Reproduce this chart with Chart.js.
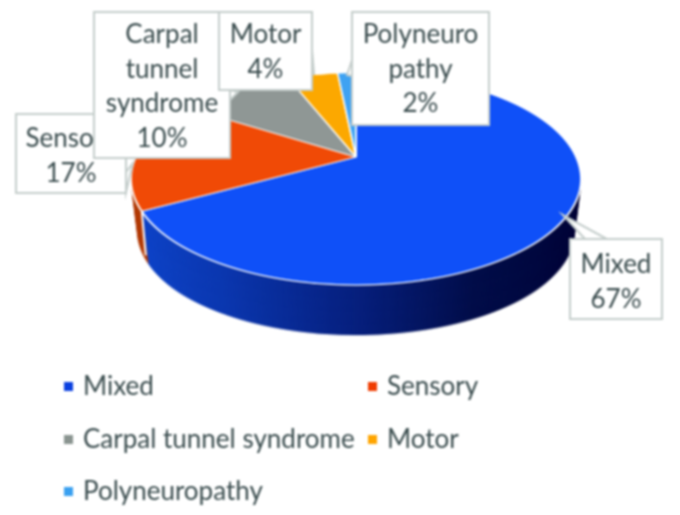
<!DOCTYPE html>
<html>
<head>
<meta charset="utf-8">
<script src="https://cdn.jsdelivr.net/npm/chart.js@4"></script>
<style>
  html, body { margin: 0; background: #fff; }
  canvas { display: block; filter: blur(0.8px); }
</style>
</head>
<body>
<canvas id="myChart" width="680" height="515"></canvas>
<script>
const categories = ['Mixed', 'Sensory', 'Carpal tunnel syndrome', 'Motor', 'Polyneuropathy']
const values = [67, 17, 10, 4.4, 1.6]
const sliceColors = ['#0f50f8', '#f04a06', '#8f9795', '#fca800', '#3fa2f2']
const legendColors = ['#0b40e0', '#f03c00', '#8a9490', '#ffa500', '#3aa0f0']
const calloutLines = [['Mixed'], ['Sensory'], ['Carpal', 'tunnel', 'syndrome'], ['Motor'], ['Polyneuro', 'pathy']]

// where the pie sits on the page, perspective comes from tilt
const view = { cx: 356, cy: 157, radius: 220, front: 128, back: 84, depth: 54, shrink: 0.03 }
const tilt = (view.front - view.back) / (view.front + view.back)
const squash = view.front * (1 - tilt)

// label boxes: x, y, w, h, first text line y, pointer polygon
const boxes = [
  { x: 570, y: 239, w: 92, h: 80, top: 265, tip: [[585, 239], [563, 215], [607, 239]] },
  { x: 16, y: 114, w: 110, h: 79, top: 139, tip: [[126, 172], [133, 163], [126, 192]] },
  { x: 94, y: 12, w: 136, h: 146, top: 35, tip: [[230, 100], [238, 92], [230, 90]] },
  { x: 219, y: 12, w: 93, h: 78, top: 35, tip: [[312, 50], [314, 74], [312, 74]] },
  { x: 352, y: 12, w: 137, h: 113, top: 35, tip: [[352, 60], [347, 75], [352, 76]] }
]
const legendSlots = [[64, 387], [368, 387], [64, 440], [368, 440], [64, 492]]

function rowTransform(y, arc) {
  const toV = (row) => {
    const t = (row - view.cy) / squash
    return t / (1 + tilt * t)
  }
  const v1 = toV(y)
  const v2 = toV(y + 1)
  const w = 1 - tilt * (v1 + v2) / 2
  const r = arc.outerRadius
  const a = (view.radius / r) / w
  const d = 1 / ((v2 - v1) * r)
  return [a, 0, 0, d, view.cx - arc.x * a, y - (arc.y + v1 * r) * d]
}

function drawRows(ctx, arcs) {
  for (let y = 55; y < 300; y++) {
    ctx.save()
    ctx.beginPath()
    ctx.rect(0, y, ctx.canvas.width, 1)
    ctx.clip()
    ctx.setTransform(...rowTransform(y, arcs[0]))
    arcs.forEach(a => a.draw(ctx))
    ctx.restore()
  }
}

function projectAngle(deg) {
  const u = Math.sin(deg * Math.PI / 180)
  const v = -Math.cos(deg * Math.PI / 180)
  const w = 1 - tilt * v
  return [view.cx + view.radius * u / w, view.cy + squash * v / w]
}

function drawWall(chart, arcs) {
  const ctx = chart.ctx
  const off = document.createElement('canvas')
  off.width = chart.width
  off.height = chart.height
  const offCtx = off.getContext('2d')
  const a0 = arcs[0]
  const x0 = a0.x - a0.outerRadius
  const x1 = a0.x + a0.outerRadius

  const blue = offCtx.createLinearGradient(x0, 0, x1, 0)
  blue.addColorStop(0, '#1048d0')
  blue.addColorStop(0.25, '#0c38b0')
  blue.addColorStop(0.5, '#07207e')
  blue.addColorStop(0.72, '#030e4a')
  blue.addColorStop(1, '#000436')
  const sideColors = [blue, '#b33c08', '#5f6463', '#b57a00', '#2a70a8']

  const saved = arcs.map(a => a.options)
  arcs.forEach((a, i) => {
    a.options = { ...a.options, backgroundColor: sideColors[i], borderWidth: 0 }
  })
  drawRows(offCtx, arcs)
  arcs.forEach((a, i) => { a.options = saved[i] })

  for (let d = view.depth; d > 0; d--) {
    const s = 1 - view.shrink * d / view.depth
    ctx.drawImage(off, view.cx * (1 - s), view.cy * (1 - s) + d, off.width * s, off.height * s)
  }

  // white seam on the wall between Mixed and Sensory
  const [sx, sy] = projectAngle(values[0] / values.reduce((p, c) => p + c, 0) * 360)
  ctx.save()
  ctx.strokeStyle = '#fff'
  ctx.lineWidth = 2
  ctx.beginPath()
  ctx.moveTo(sx, sy)
  ctx.lineTo(sx + 4, sy + 44)
  ctx.stroke()
  ctx.restore()
}

const pie3d = {
  id: 'pie3d',
  beforeDatasetDraw(chart) {
    const arcs = chart.getDatasetMeta(0).data
    drawWall(chart, arcs)
    drawRows(chart.ctx, arcs)
    return false
  },
  afterDraw(chart) {
    const ctx = chart.ctx
    const total = values.reduce((p, c) => p + c, 0)
    ctx.save()
    ctx.textBaseline = 'middle'
    ctx.textAlign = 'center'
    ctx.font = '26px Lato'
    categories.forEach((c, i) => {
      const b = boxes[i]
      ctx.fillStyle = '#fff'
      ctx.strokeStyle = '#c4cdcb'
      ctx.lineWidth = 2
      ctx.beginPath()
      ctx.moveTo(b.tip[0][0], b.tip[0][1])
      ctx.lineTo(b.tip[1][0], b.tip[1][1])
      ctx.lineTo(b.tip[2][0], b.tip[2][1])
      ctx.closePath()
      ctx.fill()
      ctx.stroke()
      ctx.fillRect(b.x, b.y, b.w, b.h)
      ctx.strokeRect(b.x, b.y, b.w, b.h)
      ctx.fillStyle = '#3a4c4e'
      const lines = calloutLines[i].concat(Math.round(values[i] / total * 100) + '%')
      lines.forEach((line, n) => {
        ctx.fillText(line, b.x + b.w / 2, b.top + n * 34.5)
      })
    })
    ctx.textAlign = 'left'
    categories.forEach((c, i) => {
      const [x, y] = legendSlots[i]
      ctx.fillStyle = legendColors[i]
      ctx.fillRect(x, y - 5, 9, 9)
      ctx.fillStyle = '#3a4c4e'
      ctx.fillText(c, x + 19, y)
    })
    ctx.restore()
  }
}

new Chart(document.getElementById('myChart'), {
  type: 'pie',
  data: {
    labels: categories,
    datasets: [{
      data: values,
      backgroundColor: sliceColors,
      borderColor: '#fff',
      borderWidth: 2
    }]
  },
  options: {
    responsive: false,
    animation: false,
    plugins: {
      legend: { display: false },
      tooltip: { enabled: false }
    }
  },
  plugins: [pie3d]
})
</script>
</body>
</html>
